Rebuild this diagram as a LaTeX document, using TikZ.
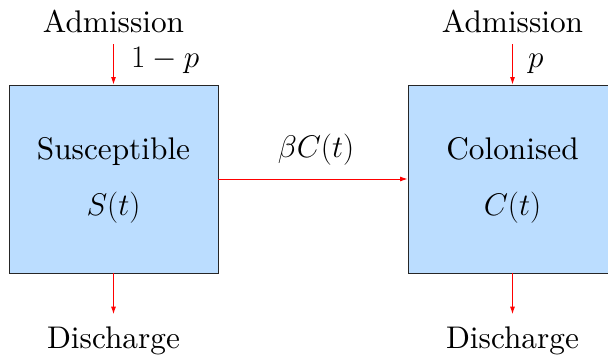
\RequirePackage{fix-cm}
\documentclass[tikz,border=0pt]{standalone}
\usepackage{fontspec}
\setmainfont{lmroman10-regular.otf}
\usetikzlibrary{arrows.meta}
\definecolor{boxblue}{RGB}{187,221,255}
\definecolor{arrred}{RGB}{255,0,0}
\tikzset{
  every node/.style={font=\fontsize{31.3}{37}\selectfont, inner sep=0pt},
  compbox/.style={draw=black!85, line width=0.9pt, fill=boxblue, minimum width=209pt, minimum height=188pt},
  arr/.style={draw=arrred, line width=0.9pt, -{Latex[length=7.5pt,width=5pt]}},
}
\begin{document}
\begin{tikzpicture}[x=1pt,y=-1pt]
\useasboundingbox (0,0) rectangle (608,356);
\node[compbox] (boxS) at (113.5,179) {};
\node[compbox] (boxC) at (512.5,179) {};
\node[anchor=base] (labS) at (113.5,159) {Susceptible};
\node[anchor=base] (varS) at (113.5,215) {$S(t)$};
\node[anchor=base] (labC) at (512.5,159) {Colonised};
\node[anchor=base] (varC) at (512.5,215) {$C(t)$};
\node[anchor=base] (admS) at (113.5,32) {Admission};
\node[anchor=base] (admC) at (512.5,32) {Admission};
\node[anchor=base] (disS) at (113.5,348) {Discharge};
\node[anchor=base] (disC) at (512.5,348) {Discharge};
\node[anchor=base west] (pS) at (131,67) {$1-p$};
\node[anchor=base west] (pC) at (528,67) {$p$};
\node[anchor=base] (rate) at (316,157) {$\beta C(t)$};
\draw[arr] ([yshift=-12pt]admS.base) -- (boxS.north);
\draw[arr] ([yshift=-12pt]admC.base) -- (boxC.north);
\draw[arr] (boxS.south) -- ([yshift=12pt]disS.north);
\draw[arr] (boxC.south) -- ([yshift=12pt]disC.north);
\draw[arr] (boxS.east) -- (boxC.west);
\end{tikzpicture}
\end{document}
